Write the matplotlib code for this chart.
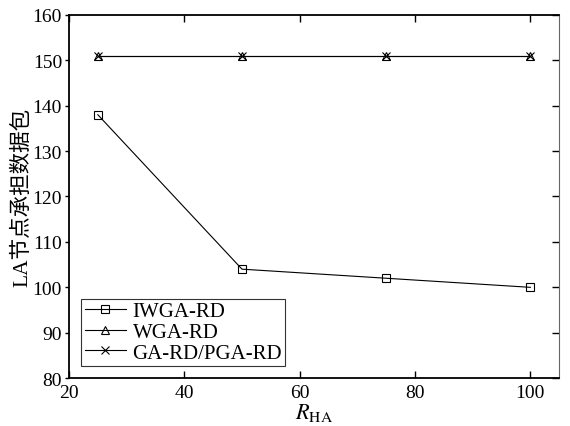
import matplotlib
matplotlib.use("Agg")
import matplotlib.pyplot as plt

# data
r_ha = [25, 50, 75, 100]
iwga_rd = [138, 104, 102, 100]
wga_rd = [151, 151, 151, 151]
ga_pga_rd = [151, 151, 151, 151]

plt.rcParams['font.family'] = ['Liberation Serif', 'Noto Sans CJK SC']
plt.rcParams['mathtext.fontset'] = 'stix'

fig = plt.figure(figsize=(5.7, 4.27), dpi=100)
ax = fig.add_axes([0.121, 0.112, 0.86, 0.851])

ax.plot(r_ha, iwga_rd, color='k', lw=0.8, marker='s', ms=6, mfc='none', mew=0.8, label='IWGA-RD')
ax.plot(r_ha, wga_rd, color='k', lw=0.8, marker='^', ms=6, mfc='none', mew=0.8, label='WGA-RD')
ax.plot(r_ha, ga_pga_rd, color='k', lw=0.8, marker='x', ms=6, mew=0.8, label='GA-RD/PGA-RD')

ax.set_xlim(20, 105)
ax.set_ylim(80, 160)
ax.set_xticks([20, 40, 60, 80, 100])
ax.set_yticks(range(80, 161, 10))
ax.tick_params(axis='x', direction='in', top=True, labelsize=14, length=5, width=1, pad=4)
ax.tick_params(axis='y', direction='out', right=False, labelsize=14, length=3, width=1, pad=2)
# right side ticks point inward in the reference
sec = ax.secondary_yaxis('right')
sec.set_yticks(range(80, 161, 10))
sec.tick_params(direction='in', length=5, width=1, labelright=False)
sec.spines['right'].set_linewidth(0.8)
sec.spines['right'].set_color('0.4')
ax.spines['right'].set_visible(False)
for k in ['left', 'top', 'bottom']:
  ax.spines[k].set_linewidth(1.3)

ax.set_xlabel(r'$R_{\mathrm{HA}}$', fontsize=16, labelpad=0)
ax.set_ylabel('LA节点承担数据包', fontsize=15.5, family=['Liberation Serif', 'Noto Sans CJK SC'], labelpad=0)

leg = ax.legend(loc='lower left', fontsize=15, frameon=True, fancybox=False,
                edgecolor='k', borderpad=0.15, labelspacing=0.05, handlelength=2.0,
                handletextpad=0.3, borderaxespad=0.6)
leg.get_frame().set_linewidth(0.8)

fig.savefig('out.png', dpi=100)
